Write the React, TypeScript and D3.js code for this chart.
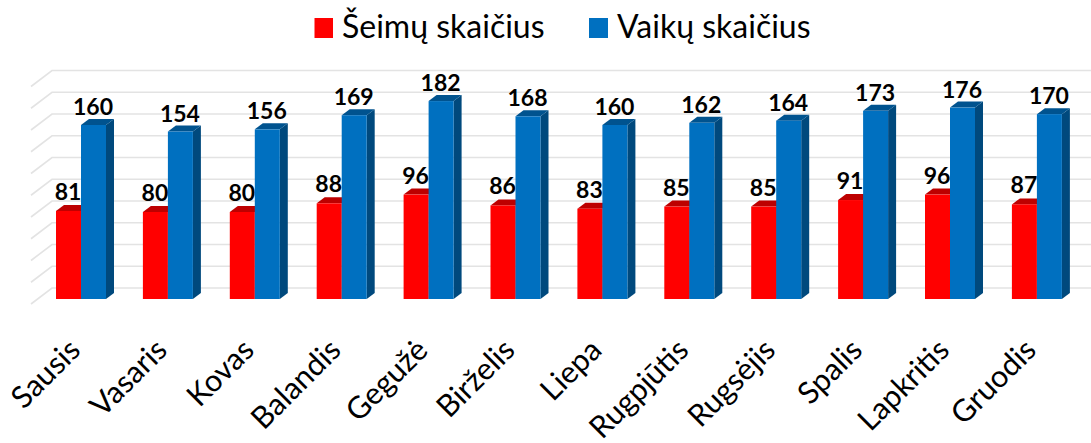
import React from "react";
import * as d3 from "d3";

const months = ["Sausis","Vasaris","Kovas","Balandis","Gegužė","Birželis","Liepa","Rugpjūtis","Rugsėjis","Spalis","Lapkritis","Gruodis"];
const seimos = [81,80,80,88,96,86,83,85,85,91,96,87];
const vaikai = [160,154,156,169,182,168,160,162,164,173,176,170];
const seriesNames = ["Šeimų skaičius","Vaikų skaičius"];
const gridTicks = d3.range(0, 201, 20);

const FONT = "Lato, 'Open Sans', sans-serif";
const W = 1091, H = 443;
const y = d3.scaleLinear().domain([0, 200]).range([299, 81.5]);
const x = d3.scalePoint<string>().domain(months).range([56, 56 + 11 * 86.9]);
const DX = 8, DY = -6;
const WDX = 21, WDY = -16;
const w = 25;

function Bar({ x0, v, front, top, side }: any) {
  const yt = y(v), yb = y(0);
  return (
    <g>
      <polygon points={`${x0+w},${yt} ${x0+w+DX},${yt+DY} ${x0+w+DX},${yb+DY} ${x0+w},${yb}`} fill={side} />
      <polygon points={`${x0},${yt} ${x0+DX},${yt+DY} ${x0+w+DX},${yt+DY} ${x0+w},${yt}`} fill={top} />
      <rect x={x0} y={yt} width={w} height={yb-yt} fill={front} />
    </g>
  );
}

export default function App() {
  return (
    <svg width={W} height={H} style={{ position: "absolute", left: 0, top: 0 }}>
      <rect width={W} height={H} fill="#fff" />
      {gridTicks.map(t => {
        const yy = y(t) + 5;
        return (
          <polyline key={t} fill="none" stroke="#e3e3e3" strokeWidth={1.6}
            points={`31,${yy} ${31+WDX},${yy+WDY} 1091,${yy+WDY}`} />
        );
      })}
      {months.map((m, i) => {
        const x0 = x(m)!;
        return (
          <g key={m}>
            <Bar x0={x0} v={seimos[i]} front="#ff0000" top="#bd0000" side="#bd0000" />
            <Bar x0={x0+w} v={vaikai[i]} front="#0070c0" top="#00538f" side="#00497d" />
            <text x={x0+12} y={y(seimos[i])-11} textAnchor="middle" fontFamily={FONT} fontSize={23} fontWeight={700} fill="#000">{seimos[i]}</text>
            <text x={x0+37} y={y(vaikai[i])-10} textAnchor="middle" fontFamily={FONT} fontSize={23} fontWeight={700} fill="#000">{vaikai[i]}</text>
            <text transform={`translate(${x0+26},${352}) rotate(-45)`} textAnchor="end" fontFamily={FONT} fontSize={30.5} fill="#000">{m}</text>
          </g>
        );
      })}
      <rect x={314.5} y={18} width={18.5} height={20} fill="#ff0000" />
      <text x={342} y={38} fontFamily={FONT} fontSize={32} fill="#000">{seriesNames[0]}</text>
      <rect x={589} y={18} width={19} height={20} fill="#0070c0" />
      <text x={617} y={38} fontFamily={FONT} fontSize={32} fill="#000">{seriesNames[1]}</text>
    </svg>
  );
}
